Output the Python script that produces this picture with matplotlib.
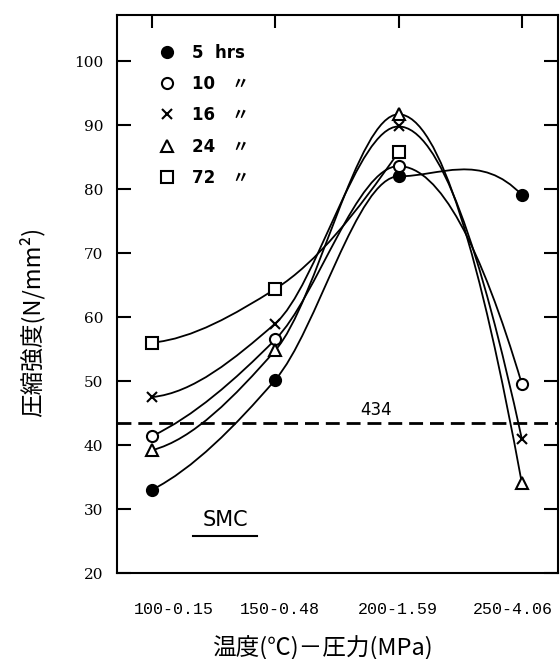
import numpy as np
import matplotlib
matplotlib.use("Agg")
import matplotlib.pyplot as plt
import matplotlib.transforms as mtransforms
from matplotlib.path import Path
from matplotlib.patches import PathPatch

# temperature (deg C) on x, compressive strength (N/mm2) on y
temps = [100, 150, 200, 250]
tick_labels = ["100-0.15", "150-0.48", "200-1.59", "250-4.06"]

hrs5 = [33.0, 50.2, 82.0, 79.1]
hrs10 = [41.4, 56.5, 83.6, 49.6]
hrs16 = [47.5, 59.0, 89.8, 41.0]
hrs24 = [39.2, 54.8, 91.7, 34.1]
hrs72 = [56.0, 64.4, 85.8]          # no value at 250
ref_level = 43.4
ref_label = "434"

series = [
    ("5  hrs", hrs5, "o", "black"),
    ("10   〃", hrs10, "o", "white"),
    ("16   〃", hrs16, "x", "black"),
    ("24   〃", hrs24, "^", "white"),
    ("72   〃", hrs72, "s", "white"),
]


def slopes(x, y):
    # monotone (Fritsch-Carlson) tangents, used only to shape the bezier curve
    x = np.asarray(x, float)
    y = np.asarray(y, float)
    h = np.diff(x)
    d = np.diff(y) / h
    m = np.zeros_like(y)
    for k in range(1, len(y) - 1):
        if d[k - 1] * d[k] > 0:
            w1 = 2 * h[k] + h[k - 1]
            w2 = h[k] + 2 * h[k - 1]
            m[k] = (w1 + w2) / (w1 / d[k - 1] + w2 / d[k])
    m0 = ((2 * h[0] + h[1]) * d[0] - h[0] * d[1]) / (h[0] + h[1])
    if np.sign(m0) != np.sign(d[0]):
        m0 = 0
    m[0] = m0
    mn = ((2 * h[-1] + h[-2]) * d[-1] - h[-1] * d[-2]) / (h[-1] + h[-2])
    if np.sign(mn) != np.sign(d[-1]):
        mn = 0
    m[-1] = mn
    return m


def smooth_path(x, y):
    m = slopes(x, y)
    verts = [(x[0], y[0])]
    codes = [Path.MOVETO]
    for i in range(len(x) - 1):
        h = x[i + 1] - x[i]
        verts += [(x[i] + h / 3, y[i] + m[i] * h / 3),
                  (x[i + 1] - h / 3, y[i + 1] - m[i + 1] * h / 3),
                  (x[i + 1], y[i + 1])]
        codes += [Path.CURVE4] * 3
    return Path(verts, codes)


fig = plt.figure(figsize=(5.6, 6.59), dpi=100)
ax = fig.add_axes([0.209, 0.1305, 0.787, 0.8465])

for label, vals, mk, face in series:
    xs = temps[:len(vals)]
    ax.add_patch(PathPatch(smooth_path(xs, vals), fill=False, lw=1.3,
                           edgecolor="black", zorder=2))
    ax.plot(xs, vals, ls="none", marker=mk, ms=8 if mk != "x" else 7,
            mfc=face, mec="black", mew=1.5, label=label, zorder=3)

ax.axhline(ref_level, color="black", lw=2, ls=(0, (5, 2.5)), zorder=1)
ax.text(191, ref_level + 0.6, ref_label, ha="center", va="bottom",
        fontsize=12, family="DejaVu Sans")

ax.set_xlim(85.8, 264.6)
ax.set_ylim(20, 107.2)
ax.set_xticks(temps)
ax.set_xticklabels([])
# hand-lettered labels sit a little off their tick marks (shift in pixels)
label_shift = [22, 5, -1, -9]
xtrans = mtransforms.blended_transform_factory(ax.transData, ax.transAxes)
for t, lab, dx in zip(temps, tick_labels, label_shift):
    off = mtransforms.ScaledTranslation(dx / 100, 0, fig.dpi_scale_trans)
    ax.text(t, -0.066, lab, transform=xtrans + off, ha="center", va="center",
            family="Liberation Mono", fontsize=12, clip_on=False)

ax.set_yticks(range(20, 101, 10))
for t in ax.get_yticklabels():
    t.set_family("DejaVu Serif")
    t.set_fontsize(11)

ax.tick_params(axis="x", top=True, bottom=False, direction="in",
               length=9, width=1.5)
ax.tick_params(axis="y", left=True, right=True, direction="in",
               length=10, width=1.5, pad=10)
for s in ax.spines.values():
    s.set_linewidth(1.5)

ax.set_ylabel("圧縮強度(N/mm²)", family=["Noto Sans CJK JP", "DejaVu Sans"],
              fontsize=17)
ax.yaxis.set_label_coords(-0.165, 0.45)
ax.set_xlabel("温度(℃)－圧力(MPa)", family=["Noto Sans CJK JP", "DejaVu Sans"],
              fontsize=17)
ax.xaxis.set_label_coords(0.465, -0.112)

ax.text(0.245, 0.095, "SMC", transform=ax.transAxes, ha="center",
        va="center", fontsize=15, family="DejaVu Sans")
ax.plot([0.173, 0.318], [0.066, 0.066], transform=ax.transAxes,
        color="black", lw=1.5)

leg = ax.legend(loc="upper left", bbox_to_anchor=(0.06, 0.976), frameon=False,
                handletextpad=1.0, labelspacing=0.8, handlelength=1.0,
                prop={"family": ["DejaVu Sans", "Noto Sans CJK JP"],
                      "size": 12, "weight": "bold"})

fig.savefig("out.png", dpi=100)
